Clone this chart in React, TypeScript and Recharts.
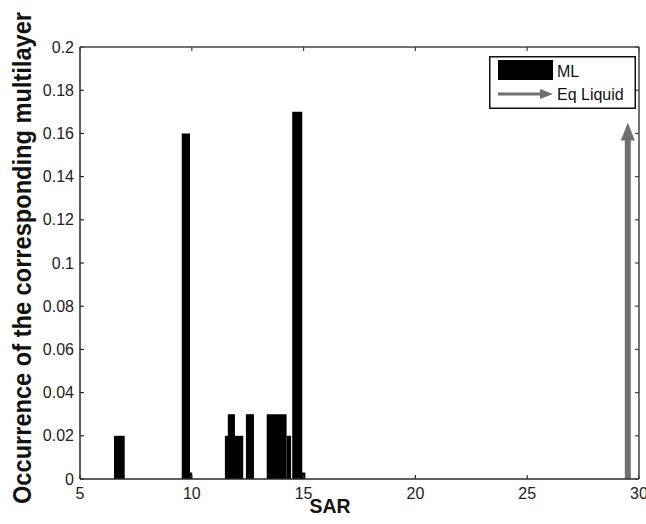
import React from "react";
import {
  ComposedChart, XAxis, YAxis, ReferenceArea,
  ReferenceLine, Legend,
} from "recharts";

// axis ticks
const sarTicks = [5, 10, 15, 20, 25, 30];
const occurrenceTicks = [0, 0.02, 0.04, 0.06, 0.08, 0.1, 0.12, 0.14, 0.16, 0.18, 0.2];

// ML bars: SAR span (start / end) and occurrence
const mlStart = [6.52, 9.55, 9.78, 11.48, 11.61, 12.42, 13.35, 14.24, 14.49, 14.8];
const mlEnd = [7.0, 9.92, 10.02, 12.3, 11.93, 12.78, 14.24, 14.44, 14.94, 15.08];
const mlValue = [0.02, 0.16, 0.003, 0.02, 0.03, 0.03, 0.03, 0.02, 0.17, 0.003];

// equivalent liquid arrow
const eqLiquidSar = [29.5];
const eqLiquidValue = [0.165];

const mlBars = mlStart.map((s, i) => ({ start: s, end: mlEnd[i], value: mlValue[i] }));

const SAR_MIN = 5;
const SAR_MAX = 30;
const OCC_MIN = 0;
const OCC_MAX = 0.2;

// layout
const W = 646;
const H = 524;
const M_TOP = 47;
const M_RIGHT = 7;
const X_AXIS_H = 45;
const Y_AXIS_W = 80;
const X_TICK_MARGIN = 9;
const Y_TICK_MARGIN = 6;
const PLOT_TOP = M_TOP;
const PLOT_RIGHT = W - M_RIGHT;
const TICK = 4;

const FONT = "'Liberation Sans', Arial, sans-serif";
const AXIS = "#2a2a2a";
const FRAME = "#444";
const ARROW = "#6f6f6f";

// bottom tick label + inward ticks at bottom and top, right frame edge at the last tick
function XTick(props: any) {
  const { x, y, payload } = props;
  const axisY = y - X_TICK_MARGIN;
  return (
    <g>
      <line x1={x} x2={x} y1={axisY} y2={axisY - TICK} stroke={AXIS} strokeWidth={1.2} />
      <line x1={x} x2={x} y1={PLOT_TOP} y2={PLOT_TOP + TICK} stroke={FRAME} strokeWidth={1.2} />
      {payload.value === SAR_MAX && (
        <line x1={x} x2={x} y1={PLOT_TOP} y2={axisY} stroke={FRAME} strokeWidth={1.5} />
      )}
      <text x={x} y={y} dy="0.71em" textAnchor="middle"
        fontFamily={FONT} fontSize={16} fill="#222">
        {payload.value}
      </text>
    </g>
  );
}

// left tick label + inward ticks at left and right, top frame edge at the last tick
function YTick(props: any) {
  const { x, y, payload } = props;
  const axisX = x + Y_TICK_MARGIN;
  return (
    <g>
      <line x1={axisX} x2={axisX + TICK} y1={y} y2={y} stroke={AXIS} strokeWidth={1.2} />
      <line x1={PLOT_RIGHT} x2={PLOT_RIGHT - TICK} y1={y} y2={y} stroke={FRAME} strokeWidth={1.2} />
      {payload.value === OCC_MAX && (
        <line x1={axisX} x2={PLOT_RIGHT} y1={y} y2={y} stroke={FRAME} strokeWidth={1.5} />
      )}
      <text x={x} y={y} dy="0.355em" textAnchor="end"
        fontFamily={FONT} fontSize={16} fill="#222">
        {payload.value}
      </text>
    </g>
  );
}

function Arrow(props: any) {
  const { x1, y1, x2, y2 } = props;
  const top = Math.min(y1, y2);
  const bottom = Math.max(y1, y2);
  const x = x1 ?? x2;
  return (
    <g>
      <line x1={x} x2={x} y1={bottom} y2={top + 16} stroke={ARROW} strokeWidth={6} />
      <polygon points={`${x - 7},${top + 18} ${x},${top} ${x + 7},${top + 18}`} fill={ARROW} />
    </g>
  );
}

function LegendBox() {
  return (
    <svg width={147} height={53} style={{ display: "block" }}>
      <rect x={0.75} y={0.75} width={145.5} height={51.5} fill="#fff" stroke="#111" strokeWidth={1.5} />
      <rect x={9} y={4} width={55} height={20} fill="#000" />
      <text x={68} y={21} fontFamily={FONT} fontSize={16} fill="#111">ML</text>
      <line x1={9} x2={54} y1={38} y2={38} stroke={ARROW} strokeWidth={3} />
      <polygon points="51,33 64,38 51,43" fill={ARROW} />
      <text x={68} y={44} fontFamily={FONT} fontSize={16} fill="#111">Eq Liquid</text>
    </svg>
  );
}

function YTitle() {
  return (
    <text
      x={31} y={258} transform="rotate(-90, 31, 258)"
      textAnchor="middle" fontFamily={FONT} fontWeight="bold" fontSize={26}
      textLength={492} lengthAdjust="spacingAndGlyphs" fill="#111"
    >
      Occurrence of the corresponding multilayer
    </text>
  );
}

function XTitle() {
  return (
    <text
      x={330} y={513} textAnchor="middle" fontFamily={FONT} fontWeight="bold"
      fontSize={20} textLength={41} lengthAdjust="spacingAndGlyphs" fill="#111"
    >
      SAR
    </text>
  );
}

export default function App() {
  return (
    <div style={{ position: "absolute", left: 0, top: 0, background: "#fff" }}>
      <ComposedChart
        width={W} height={H} data={mlBars}
        margin={{ top: M_TOP, right: M_RIGHT, bottom: 0, left: 0 }}
      >
        <XAxis
          type="number" dataKey="start" domain={[SAR_MIN, SAR_MAX]} ticks={sarTicks}
          interval={0} allowDataOverflow height={X_AXIS_H}
          stroke={AXIS} strokeWidth={1.5} tickLine={false} tickSize={0}
          tickMargin={X_TICK_MARGIN} tick={<XTick />} label={<XTitle />}
        />
        <YAxis
          type="number" dataKey="value" domain={[OCC_MIN, OCC_MAX]} ticks={occurrenceTicks}
          interval={0} allowDataOverflow width={Y_AXIS_W}
          stroke={AXIS} strokeWidth={1.5} tickLine={false} tickSize={0}
          tickMargin={Y_TICK_MARGIN} tick={<YTick />} label={<YTitle />}
        />
        {mlBars.map((b, i) => (
          <ReferenceArea
            key={i} x1={b.start} x2={b.end} y1={0} y2={b.value}
            fill="#000" fillOpacity={1} stroke="none" ifOverflow="visible"
          />
        ))}
        {eqLiquidSar.map((s, i) => (
          <ReferenceLine
            key={"eq" + i}
            segment={[{ x: s, y: 0 }, { x: s, y: eqLiquidValue[i] }]}
            shape={<Arrow />} ifOverflow="visible"
          />
        ))}
        <Legend
          layout="vertical" align="center" verticalAlign="middle"
          wrapperStyle={{ left: 489, top: 56, width: 147, height: 53 }}
          content={() => <LegendBox />}
        />
      </ComposedChart>
    </div>
  );
}
